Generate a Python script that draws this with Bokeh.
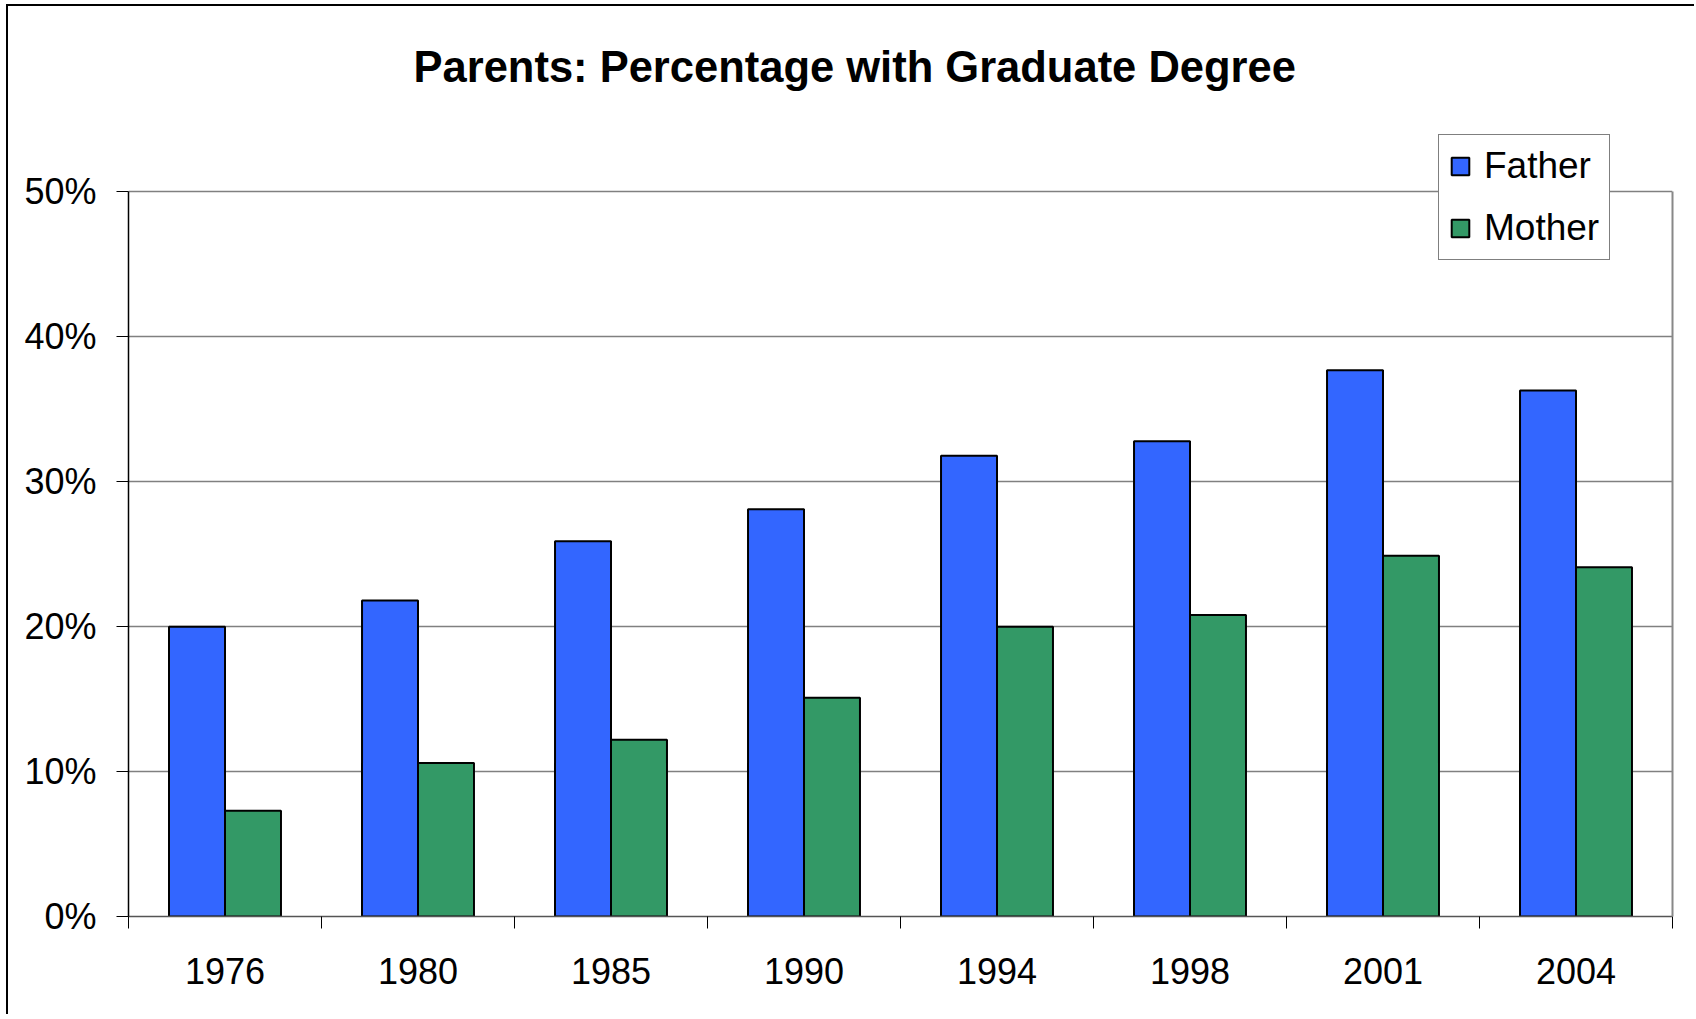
from bokeh.plotting import figure
from bokeh.models import (ColumnDataSource, FixedTicker, PrintfTickFormatter, Legend,
                          Title, Range1d, LinearAxis)
from bokeh.transform import dodge
from bokeh.embed import file_html
from bokeh.resources import INLINE

years = ["1976", "1980", "1985", "1990", "1994", "1998", "2001", "2004"]
father = [20.0, 21.8, 25.9, 28.1, 31.8, 32.8, 37.7, 36.3]
mother = [7.3, 10.6, 12.2, 15.1, 20.0, 20.8, 24.9, 24.1]
y_ticks = [0, 10, 20, 30, 40, 50]

FONT = "Liberation Sans"
BLUE = "#3366FF"
GREEN = "#339966"

idx = list(range(len(years)))
src = ColumnDataSource(dict(x=idx, year=years, father=father, mother=mother))

# y range extends a little above 50% so the legend (which sits over the top edge) is not clipped
p = figure(width=1688, height=1010, output_backend="svg", toolbar_location=None,
           x_range=Range1d(-0.5, len(years) - 0.5), y_range=Range1d(0, 55),
           min_border_left=120, min_border_right=24, min_border_top=113, min_border_bottom=100,
           background_fill_color="white", border_fill_color="white",
           styles={"margin-left": "6px", "margin-top": "4px",
                   "border-left": "2px solid black", "border-top": "2px solid black"})

p.title = Title(text="Parents: Percentage with Graduate Degree", align="left", offset=285,
                text_font=FONT, text_font_size="43.5px", text_font_style="bold",
                text_color="black", standoff=57)

p.outline_line_color = None

bw = 0.29
r1 = p.vbar(x=dodge("x", -bw / 2, range=p.x_range), top="father", width=bw, source=src,
            fill_color=BLUE, line_color="black", line_width=2)
r2 = p.vbar(x=dodge("x", bw / 2, range=p.x_range), top="mother", width=bw, source=src,
            fill_color=GREEN, line_color="black", line_width=2)

# x axis: labels at category centres, ticks at category boundaries
xa = p.xaxis[0]
xa.ticker = FixedTicker(ticks=idx, minor_ticks=[i - 0.5 for i in range(len(years) + 1)])
xa.major_label_overrides = {i: y for i, y in enumerate(years)}
xa.major_tick_out = 0
xa.major_tick_in = 0
xa.minor_tick_out = 12
xa.minor_tick_in = 0
xa.minor_tick_line_color = "black"
xa.minor_tick_line_width = 1
xa.axis_line_color = "#555555"
xa.axis_line_width = 1.5
xa.major_label_text_font = FONT
xa.major_label_text_font_size = "36px"
xa.major_label_text_color = "black"
xa.major_label_standoff = 29

ya = p.yaxis[0]
ya.bounds = (0, 50)
ya.ticker = FixedTicker(ticks=y_ticks, minor_ticks=[])
ya.formatter = PrintfTickFormatter(format="%d%%")
ya.major_tick_out = 12
ya.major_tick_in = 0
ya.major_tick_line_color = "black"
ya.major_tick_line_width = 1
ya.axis_line_color = "black"
ya.axis_line_width = 1.5
ya.major_label_text_font = FONT
ya.major_label_text_font_size = "36px"
ya.major_label_text_color = "black"
ya.major_label_standoff = 20

# right edge of the plot area (gray)
ra = LinearAxis(bounds=(0, 50), ticker=FixedTicker(ticks=[], minor_ticks=[]),
                axis_line_color="#888888", axis_line_width=2,
                major_tick_out=0, major_tick_in=0, minor_tick_out=0, minor_tick_in=0,
                major_label_standoff=0, major_label_text_font_size="1px")
p.add_layout(ra, "right")

p.xgrid.visible = False
p.ygrid.ticker = FixedTicker(ticks=y_ticks)
p.ygrid.grid_line_color = "#808080"
p.ygrid.grid_line_width = 1.5

legend = Legend(items=[("Father", [r1]), ("Mother", [r2])], location=(1310, 656),
                label_text_font=FONT, label_text_font_size="37px", label_text_color="black",
                glyph_width=22, glyph_height=22, label_standoff=13, padding=10, spacing=20,
                margin=0, border_line_color="black", border_line_width=1,
                background_fill_color="white", background_fill_alpha=1.0)
p.add_layout(legend, "center")

open("out.html", "w").write(file_html(p, INLINE))
